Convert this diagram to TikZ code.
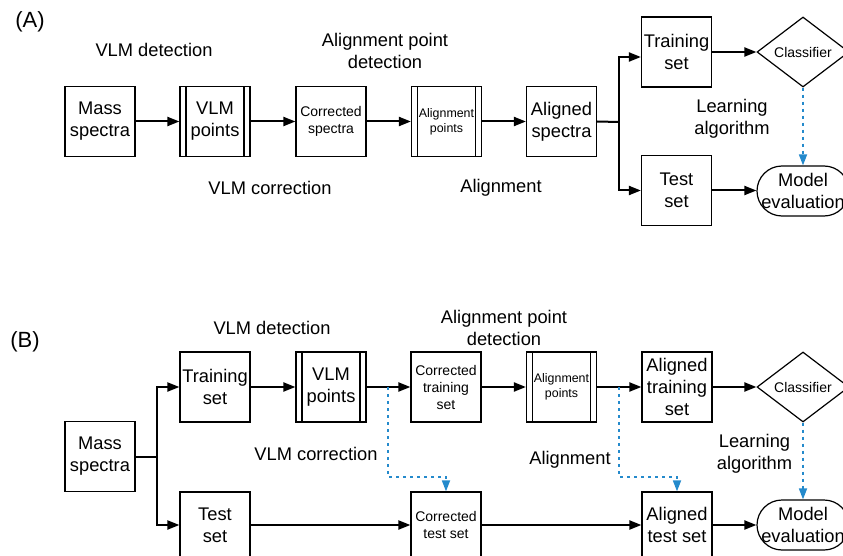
\documentclass[tikz,border=0pt]{standalone}
\usepackage{fontspec}
\setmainfont{Liberation Sans}
\usetikzlibrary{shapes.geometric,arrows.meta}

\newcommand{\bigtxt}{\fontsize{18.3}{22}\selectfont}
\newcommand{\midtxt}{\fontsize{14}{17}\selectfont}
\newcommand{\smalltxt}{\fontsize{12.4}{15}\selectfont}
\newcommand{\tagtxt}{\fontsize{22}{24}\selectfont}
\definecolor{feedblue}{RGB}{36,138,204}

\tikzset{
  box/.style={draw, line width=1.2pt, minimum width=70pt, minimum height=70pt,
    inner sep=1pt, align=center, font=\bigtxt},
  procbox/.style={box, path picture={
      \draw[line width=1.2pt]
        ([xshift=6pt]path picture bounding box.north west) -- ([xshift=6pt]path picture bounding box.south west)
        ([xshift=-6pt]path picture bounding box.north east) -- ([xshift=-6pt]path picture bounding box.south east);}},
  decbox/.style={draw, diamond, line width=1.2pt, minimum width=92pt, minimum height=70pt,
    inner sep=0pt, font=\midtxt},
  termbox/.style={draw, rectangle, rounded corners=25pt, line width=1.2pt, minimum width=92pt,
    minimum height=50pt, inner sep=2pt, align=center, font=\bigtxt},
  lbl/.style={align=center, font=\bigtxt, inner sep=0pt},
  flow/.style={line width=2pt, -{Triangle[length=12pt,width=9pt]}},
  feed/.style={line width=1.7pt, feedblue, dash pattern=on 3pt off 4pt,
    -{Triangle[length=11pt,width=8pt]}}
}

\begin{document}
\begin{tikzpicture}[x=1pt,y=-1pt]
  \useasboundingbox (0,0) rectangle (843,556);
  \clip (0,0) rectangle (843,556);

  % panel A: the boxes
  \node[lbl, font=\tagtxt] (tagA) at (30,22) {(A)};
  \node[box] (msA) at (100,121.5) {Mass\\spectra};
  \node[procbox] (vlmA) at (215,121.5) {VLM\\points};
  \node[box, font=\midtxt] (csA) at (331,121.5) {Corrected\\spectra};
  \node[procbox, font=\smalltxt] (apA) at (446.5,121.5) {Alignment\\points};
  \node[box] (asA) at (561.5,121.5) {Aligned\\spectra};
  \node[box] (trA) at (676.5,52) {Training\\set};
  \node[box] (teA) at (676.5,190.5) {Test\\set};
  \node[decbox] (clA) at (803,52) {Classifier};
  \node[termbox] (evA) at (803,191) {Model\\evaluation};
  % panel A: the labels
  \node[lbl] (detA) at (154,50) {VLM detection};
  \node[lbl] (apdA) at (385,51) {Alignment point\\detection};
  \node[lbl] (corA) at (270,188) {VLM correction};
  \node[lbl] (aliA) at (501,188) {Alignment};
  \node[lbl] (lrnA) at (732,119) {Learning\\algorithm};
  % panel A: the arrows
  \coordinate (brA) at (619,122);
  \draw[flow] (msA) -- (vlmA);
  \draw[flow] (vlmA) -- (csA);
  \draw[flow] (csA) -- (apA);
  \draw[flow] (apA) -- (asA);
  \draw[line width=2pt] (asA.east) -- (brA);
  \draw[flow] (brA) |- ([yshift=-5pt]trA.west);
  \draw[flow] (brA) |- (teA.west);
  \draw[flow] (trA) -- (clA);
  \draw[flow] (teA.east) -- (evA.west |- teA.east);
  \draw[feed] (clA.south) -- (evA.north);

  % panel B: the boxes
  \node[lbl, font=\tagtxt] (tagB) at (25,342) {(B)};
  \node[box] (msB) at (100,456.5) {Mass\\spectra};
  \node[box] (trB) at (215,387) {Training\\set};
  \node[box, minimum height=66pt] (teB) at (215,525) {Test\\set};
  \node[procbox] (vlmB) at (331,387) {VLM\\points};
  \node[box, font=\midtxt] (ctrB) at (446,387) {Corrected\\training\\set};
  \node[box, font=\midtxt, minimum height=66pt] (cteB) at (446,525) {Corrected\\test set};
  \node[procbox, font=\smalltxt] (apB) at (561.5,387) {Alignment\\points};
  \node[box] (atrB) at (677,387) {Aligned\\training\\set};
  \node[box, minimum height=66pt] (ateB) at (677,525) {Aligned\\test set};
  \node[decbox] (clB) at (803,387) {Classifier};
  \node[termbox] (evB) at (803,525) {Model\\evaluation};
  % panel B: the labels
  \node[lbl] (detB) at (272,328) {VLM detection};
  \node[lbl] (apdB) at (504,328) {Alignment point\\detection};
  \node[lbl] (corB) at (316,454) {VLM correction};
  \node[lbl] (aliB) at (570,460) {Alignment};
  \node[lbl] (lrnB) at (754.5,453.5) {Learning\\algorithm};
  % panel B: the arrows
  \coordinate (brB) at (157,456.5);
  \coordinate (tapC) at (388,387);
  \coordinate (tapA) at (619,387);
  \draw[line width=2pt] (msB.east) -- (brB);
  \draw[flow] (brB) |- (trB.west);
  \draw[flow] (brB) |- (teB.west);
  \draw[flow] (trB) -- (vlmB);
  \draw[flow] (vlmB) -- (ctrB);
  \draw[flow] (ctrB) -- (apB);
  \draw[flow] (apB) -- (atrB);
  \draw[flow] (atrB) -- (clB);
  \draw[flow] (teB) -- (cteB);
  \draw[flow] (cteB) -- (ateB);
  \draw[flow] (ateB) -- (evB);
  % and the dotted ones
  \draw[feed] (tapC) -- ++(0,90) -| (cteB.north);
  \draw[feed] (tapA) -- ++(0,90) -| (ateB.north);
  \draw[feed] (clB.south) -- (evB.north);
\end{tikzpicture}
\end{document}
